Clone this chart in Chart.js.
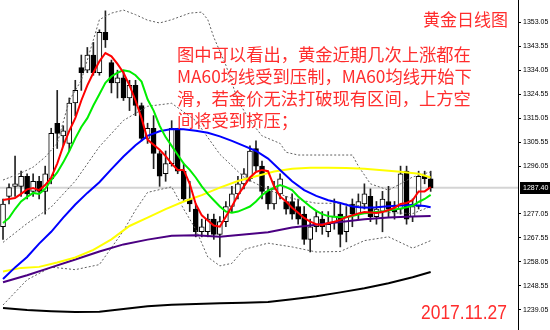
<!DOCTYPE html>
<html>
<head>
<meta charset="utf-8">
<script src="https://cdn.jsdelivr.net/npm/chart.js@4.4.0/dist/chart.umd.min.js"></script>
<style>
html, body { margin: 0; padding: 0; background: #fff; }
#wrap { width: 550px; height: 330px; }
</style>
</head>
<body>
<div id="wrap"><canvas id="goldChart" width="550" height="330"></canvas></div>
<script>
// daily bars, oldest first (one bar per slot)
const opens  = [1272,1284,1288,1288,1292,1286,1290,1286,1291,1313,1308,1305,1321,1335,1334,1340,1333,1349,1337,1329,1331,1323,1328,1320,1307,1311,1301,1293,1297,1311,1294,1283,1279,1270,1270,1275,1269,1274,1280,1285,1289,1291,1303,1296,1286,1281,1285,1282,1282,1280,1277,1267,1272,1275,1270,1274,1277,1270,1281,1277,1281,1284,1276,1278,1282,1279,1279,1294,1276,1280,1292,1291];
const highs  = [1283,1289,1300,1294,1293,1293,1292,1296,1311,1326,1312,1323,1330,1340,1343,1345,1350,1357.5,1338,1334,1334,1330,1330,1321,1313,1316,1302,1302,1314,1311,1297,1290,1281,1275,1277,1277,1276,1282,1288,1292,1295,1304,1306,1298,1288,1290,1293,1284,1285,1283,1280,1275,1278,1278,1278,1283,1281,1280,1283,1285,1289,1287,1282,1286,1288,1282,1296,1296,1283,1294,1294,1294];
const lows   = [1267,1281,1284,1284,1283,1284,1283,1277,1289,1303,1304,1302,1316,1326,1333,1332,1332,1343,1325,1323,1322,1318,1316,1306,1305,1295,1288,1290,1296,1293,1282,1278,1268,1268,1268,1267,1260,1272,1278,1283,1287,1290,1294,1283,1279,1279,1283,1277,1275,1273,1265,1262,1270,1269,1268,1271,1264,1266,1272,1275,1279,1274,1273,1270,1276,1275,1277,1273,1274,1279,1289,1286];
const closes = [1281,1287.5,1289,1292,1285,1290,1286,1293,1309,1309,1310,1321,1326,1333,1340,1333,1349,1346,1329,1331,1323,1328,1320,1307,1311,1301,1292,1297,1311,1294,1283,1281,1270,1272,1275,1269,1274,1280,1285,1289,1293,1302,1296,1286,1281,1287,1291,1279,1277,1275,1267,1272,1276,1272,1273,1276,1269,1276,1277,1282,1285,1276,1279,1283,1279,1278,1293,1275,1280,1292,1291,1287.4];

// moving averages
const ma5 = [1282.6,1283,1283.4,1285,1286.8,1287.3,1286.5,1288.5,1291.5,1297,1304,1310,1315,1322,1328,1333,1337.5,1340.8,1339.5,1336.5,1333,1328,1322,1315,1306.5,1304.5,1302.5,1300,1297,1294.5,1294.5,1289,1281,1276.5,1274.5,1272.5,1272,1276,1280,1284.5,1288,1291.5,1293.7,1294.5,1294,1288,1284,1282,1279.5,1277.5,1275.5,1274,1273,1272.7,1273.5,1274,1274.7,1275.8,1276.5,1277.3,1277.8,1277.6,1277.4,1277.8,1278.6,1279.5,1281,1281.4,1282.5,1286,1286,1287.7];
const ma10 = [1273.5,1275.5,1279,1282,1283.8,1285.4,1285,1287,1290.5,1293.5,1297.5,1302,1307,1311.5,1315,1320,1324.5,1329,1331.5,1333,1334,1333.5,1332,1329.5,1322.5,1318,1312,1307.5,1304,1300.5,1297,1294.5,1291.5,1288,1285,1282.5,1280,1278,1277.5,1278,1279,1280,1282,1284.5,1286.3,1287.5,1288.5,1287.7,1286.5,1284,1282,1280,1278.3,1277,1276.2,1276,1275.8,1275.8,1276.2,1276.8,1277.3,1277.5,1277.8,1278,1278.4,1278.8,1279.2,1279.7,1280.3,1281.8,1283,1284.6];
// [bar, value]
const ma30 = [[0,1251.3],[2,1255.9],[4,1260],[6,1265.3],[8,1270],[10,1275.6],[12,1280.8],[14,1285.4],[16,1289.6],[18,1294.8],[20,1299.8],[22,1304.3],[24,1308],[26,1309.8],[28,1310.7],[30,1310.6],[32,1310],[34,1309.2],[36,1307.8],[38,1306],[40,1304],[42,1302],[44,1299],[46,1294.5],[48,1290],[50,1286.5],[52,1284.2],[54,1282.5],[56,1281.4],[58,1280],[60,1279.5],[62,1279.7],[64,1280.1],[66,1280.4],[68,1280.6],[70,1280.2],[71,1279.7]];
const ma60 = [[0,1254.3],[3,1255.7],[6,1256.1],[9,1257.8],[12,1259.8],[15,1262.8],[18,1267],[21,1272.3],[24,1275.6],[27,1279],[30,1282],[33,1284.5],[36,1287.5],[39,1290.1],[42,1292],[45,1293.9],[48,1295],[51,1295.4],[54,1295.4],[57,1295.3],[60,1295],[63,1294.4],[66,1293.8],[69,1293],[71,1291.5]];
const ma120 = [[0,1250],[4,1252.8],[8,1255.9],[12,1259],[16,1262.2],[20,1265],[24,1266.9],[28,1268.4],[32,1268.6],[36,1268],[40,1268.9],[44,1269.8],[48,1271.7],[52,1272.8],[56,1273.9],[60,1275],[64,1275.7],[68,1276.1],[71,1276.3]];
const ma250 = [[0,1239.8],[4,1239],[8,1238.5],[12,1238.2],[16,1238.3],[20,1239.4],[24,1240.5],[28,1241.1],[32,1241.4],[36,1241.7],[40,1241.9],[44,1242.2],[48,1243.3],[52,1244.5],[56,1246],[60,1247.6],[64,1249.6],[68,1252],[71,1254.1]];
// bollinger bands (dotted)
const bbUpper = [[0,1290.5],[3,1293.3],[5,1295.6],[7,1299.6],[9,1305],[11,1322],[13,1330],[15,1346],[16,1354],[18,1356.6],[20,1357.8],[22,1356],[24,1353.8],[26,1352.7],[28,1354],[31,1356.6],[33,1357],[34,1354],[35,1347],[37,1336],[39,1322],[41,1314],[43,1308],[46,1305],[47,1301.5],[49,1300.4],[58,1300.4],[59,1296],[61,1289],[64,1286.5],[66,1289],[68,1291.7],[71,1293.7]];
const bbMiddle = [[0,1265.8],[4,1273.3],[8,1279.8],[12,1290.1],[16,1303.7],[20,1314.1],[24,1319.7],[28,1320.9],[32,1314],[36,1300.7],[40,1291.6],[44,1286.6],[48,1283.2],[52,1281.3],[56,1281.3],[60,1280],[64,1277.6],[68,1277.2],[71,1280]];
const bbLower = [[0,1241],[4,1251],[8,1256],[12,1255],[16,1257],[20,1270.4],[22,1278.6],[24,1285.6],[28,1287.8],[30,1279],[32,1271],[34,1260],[36,1256.5],[38,1257.5],[40,1263],[44,1265.5],[48,1264],[52,1262],[56,1262.2],[60,1266.5],[64,1268],[68,1263.5],[71,1266.5]];

const priceTicks = [1353.05,1343.55,1334.05,1324.55,1315.05,1305.55,1296.05,1277.05,1267.55,1258.05,1248.55,1239.05];
const lastPrice = 1287.40;
const titleText = '黄金日线图';
const noteLines = ['图中可以看出，黄金近期几次上涨都在', 'MA60均线受到压制，MA60均线开始下', '滑，若金价无法打破现有区间，上方空', '间将受到挤压；'];
const dateText = '2017.11.27';
const totalSlots = 86;

const bars = closes.map((c, i) => i);
const wickData = bars.map(i => ({x: i, y: [lows[i], highs[i]]}));
const bodyData = bars.map(i => ({x: i, y: [opens[i], closes[i]]}));
const bodyColors = bars.map(i => closes[i] >= opens[i] ? '#ffffff' : '#000000');
const perBar = arr => arr.map((v, i) => ({x: i, y: v}));
const fromPairs = arr => arr.map(p => ({x: p[0], y: p[1]}));

function lineSet(data, color, width, dash, order) {
    return {
        type: 'line',
        data: data,
        borderColor: color,
        borderWidth: width,
        borderDash: dash,
        pointRadius: 0,
        tension: 0,
        fill: false,
        order: order
    };
}

// texts and the last price box
const annotate = {
    id: 'annotate',
    afterDraw(chart) {
        const ctx = chart.ctx;
        const area = chart.chartArea;
        const py = chart.scales.y.getPixelForValue(lastPrice);
        ctx.save();
        ctx.fillStyle = '#000';
        ctx.fillRect(area.right + 2, Math.round(py) - 6, 32, 12);
        ctx.fillStyle = '#fff';
        ctx.font = '7px "Liberation Sans"';
        ctx.textBaseline = 'middle';
        ctx.fillText(lastPrice.toFixed(2), area.right + 5, py);

        ctx.fillStyle = 'rgb(255,45,45)';
        ctx.font = '17px "Noto Sans CJK SC"';
        ctx.textAlign = 'right';
        ctx.fillText(titleText, 508, 20);
        ctx.textAlign = 'left';
        ctx.font = '17.3px "Noto Sans CJK SC"';
        noteLines.forEach((t, i) => ctx.fillText(t, 177, 54 + i * 22, 298));
        ctx.font = '20px "Liberation Sans"';
        ctx.fillText(dateText, 421, 313, 86);
        ctx.restore();
    }
};

new Chart(document.getElementById('goldChart'), {
    type: 'bar',
    data: {
        datasets: [
            lineSet(perBar(ma5), '#ff0000', 2, [], 1),
            lineSet(perBar(ma10), '#00ee00', 2, [], 2),
            lineSet(fromPairs(ma30), '#0000ff', 2, [], 3),
            lineSet(fromPairs(ma60), '#ffff00', 2, [], 4),
            lineSet(fromPairs(ma120), '#4b0082', 2, [], 5),
            lineSet(fromPairs(ma250), '#000000', 2, [], 6),
            lineSet(fromPairs(bbUpper), '#606060', 1, [2, 2], 7),
            lineSet(fromPairs(bbMiddle), '#606060', 1, [2, 2], 7),
            lineSet(fromPairs(bbLower), '#606060', 1, [2, 2], 8),
            {
                type: 'bar',
                data: bodyData,
                backgroundColor: bodyColors,
                borderColor: '#000',
                borderWidth: 1,
                borderSkipped: false,
                barThickness: 5,
                grouped: false,
                order: 10
            },
            {
                type: 'bar',
                data: wickData,
                backgroundColor: '#222',
                barThickness: 1,
                grouped: false,
                order: 11
            },
            lineSet([{x: -0.5, y: lastPrice}, {x: totalSlots - 0.5, y: lastPrice}], '#d4d4d4', 2, [], 12)
        ]
    },
    options: {
        responsive: false,
        animation: false,
        layout: { padding: 0 },
        plugins: {
            legend: { display: false },
            tooltip: { enabled: false }
        },
        scales: {
            x: {
                type: 'linear',
                min: -0.5,
                max: totalSlots - 0.5,
                offset: false,
                display: false
            },
            y: {
                type: 'linear',
                position: 'right',
                min: 1231.1,
                max: 1361.8,
                afterBuildTicks: scale => { scale.ticks = priceTicks.map(v => ({value: v})); },
                afterFit: scale => { scale.width = 32; scale.paddingTop = 0; scale.paddingBottom = 0; },
                ticks: {
                    color: '#000',
                    font: { family: 'Liberation Sans', size: 7 },
                    padding: 2,
                    callback: v => v.toFixed(2)
                },
                grid: { drawOnChartArea: false, tickLength: 3, color: '#000' },
                border: { display: true, color: '#000', width: 1 }
            }
        }
    },
    plugins: [annotate]
});
</script>
</body>
</html>
